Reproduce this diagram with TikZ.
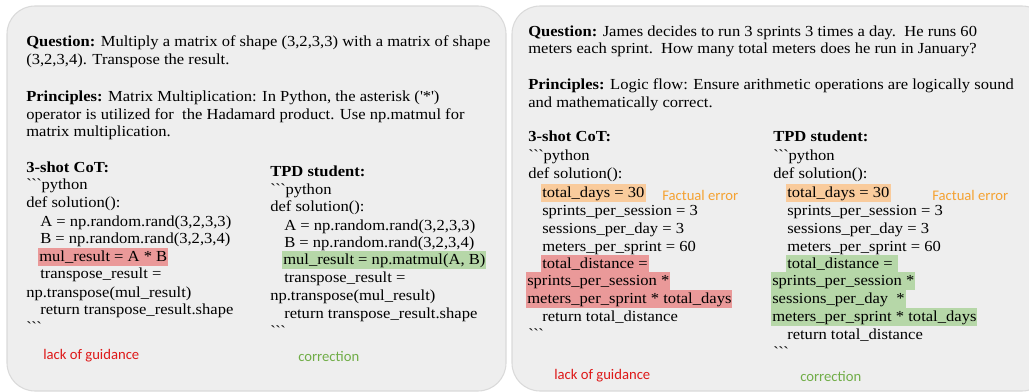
\documentclass[tikz,border=0pt]{standalone}
\usepackage{fontspec}
\setmainfont[FakeStretch=1.08]{Liberation Serif}
\newfontfamily\notefont{Carlito}
\usepackage{xcolor}
\usetikzlibrary{positioning}

\definecolor{panelfill}{RGB}{238,238,238}
\definecolor{panelline}{RGB}{218,218,218}
\definecolor{badred}{RGB}{234,153,153}
\definecolor{goodgreen}{RGB}{182,215,168}
\definecolor{factorange}{RGB}{249,203,156}
\definecolor{notered}{RGB}{222,24,24}
\definecolor{notegreen}{RGB}{112,173,71}
\definecolor{noteorange}{RGB}{245,162,50}

\newcommand{\ticks}{\textasciigrave\textasciigrave\textasciigrave}

\begin{document}
\begin{tikzpicture}[x=0.75pt, y=-0.75pt,
  panel/.style={draw=panelline, fill=panelfill, line width=0.8pt, rounded corners=21pt},
  txt/.style={anchor=west, inner xsep=0.75pt, inner ysep=0pt, text height=9.6pt, text depth=3.2pt, font=\fontsize{11.5}{13}\selectfont},
  bad/.style={txt, fill=badred},
  good/.style={txt, fill=goodgreen},
  fact/.style={txt, fill=factorange},
  note/.style={anchor=west, inner sep=0pt, font=\notefont\fontsize{11}{13}\selectfont}]
\clip (0,0) rectangle (1029,392);
\useasboundingbox (0,0) rectangle (1029,392);

% two panels
\draw[panel] (7,6) rectangle (506,391);
\draw[panel] (512,6) rectangle (1050,391);

% left: matrix example
\node[txt] (lq1) at (25,42) {\textbf{Question:} Multiply a matrix of shape (3,2,3,3) with a matrix of shape};
\node[txt] (lq2) at (25,60) {(3,2,3,4). Transpose the result.};
\node[txt] (lp1) at (25,97) {\textbf{Principles:} Matrix Multiplication: In Python, the asterisk (\textquotesingle*\textquotesingle)};
\node[txt] (lp2) at (25,115) {operator is utilized for\ \ the Hadamard product. Use np.matmul for};
\node[txt] (lp3) at (25,132) {matrix multiplication.};

\node[txt] (lc0) at (25,168) {\textbf{3-shot CoT:}};
\node[txt] (lc1) at (25,185) {\ticks python};
\node[txt] (lc2) at (25,203) {def solution():};
\node[txt] (lc3) at (39,222) {A = np.random.rand(3,2,3,3)};
\node[txt] (lc4) at (39,239) {B = np.random.rand(3,2,3,4)};
\node[bad] (lc5) at (38,257) {mul\_result = A * B};
\node[txt] (lc6) at (39,274) {transpose\_result =};
\node[txt] (lc7) at (25,293) {np.transpose(mul\_result)};
\node[txt] (lc8) at (39,310) {return transpose\_result.shape};
\node[txt] (lc9) at (25,328) {\ticks};

\node[txt] (lt0) at (269,172) {\textbf{TPD student:}};
\node[txt] (lt1) at (269,190) {\ticks python};
\node[txt] (lt2) at (269,207) {def solution():};
\node[txt] (lt3) at (283,226) {A = np.random.rand(3,2,3,3)};
\node[txt] (lt4) at (283,243) {B = np.random.rand(3,2,3,4)};
\node[good] (lt5) at (282,260) {mul\_result = np.matmul(A, B)};
\node[txt] (lt6) at (283,278) {transpose\_result =};
\node[txt] (lt7) at (269,296) {np.transpose(mul\_result)};
\node[txt] (lt8) at (283,314) {return transpose\_result.shape};
\node[txt] (lt9) at (269,332) {\ticks};

\node[note, text=notered] (lnote1) at (43,356) {lack of guidance};
\node[note, text=notegreen] (lnote2) at (298,356) {correction};

% right: sprint example
\node[txt] (rq1) at (527,32) {\textbf{Question:} James decides to run 3 sprints 3 times a day.\ \ He runs 60};
\node[txt] (rq2) at (527,49) {meters each sprint.\ \ How many total meters does he run in January?};
\node[txt] (rp1) at (527,85) {\textbf{Principles:} Logic flow: Ensure arithmetic operations are logically sound};
\node[txt] (rp2) at (527,103) {and mathematically correct.};

\node[txt] (rc0) at (527,137) {\textbf{3-shot CoT:}};
\node[txt] (rc1) at (527,156) {\ticks python};
\node[txt] (rc2) at (527,174) {def solution():};
\node[fact] (rc3) at (541,193) {total\_days = 30};
\node[txt] (rc4) at (541,211) {sprints\_per\_session = 3};
\node[txt] (rc5) at (541,229) {sessions\_per\_day = 3};
\node[txt] (rc6) at (541,247) {meters\_per\_sprint = 60};
\node[bad] (rc7) at (541,264) {total\_distance =\ };
\node[bad] (rc8) at (526,281) {sprints\_per\_session *};
\node[bad] (rc9) at (526,299) {meters\_per\_sprint * total\_days};
\node[txt] (rc10) at (541,317) {return total\_distance};
\node[txt] (rc11) at (527,335) {\ticks};
\node[note, text=noteorange] (rerr1) at (662,195) {Factual error};

\node[txt] (rt0) at (772,137) {\textbf{TPD student:}};
\node[txt] (rt1) at (772,156) {\ticks python};
\node[txt] (rt2) at (772,174) {def solution():};
\node[fact] (rt3) at (786,193) {total\_days = 30};
\node[txt] (rt4) at (786,211) {sprints\_per\_session = 3};
\node[txt] (rt5) at (786,229) {sessions\_per\_day = 3};
\node[txt] (rt6) at (786,247) {meters\_per\_sprint = 60};
\node[good] (rt7) at (786,264) {total\_distance =\ \ };
\node[good] (rt8) at (771,281) {sprints\_per\_session *\ };
\node[good] (rt9) at (771,299) {sessions\_per\_day\ \ *\ };
\node[good] (rt10) at (771,317) {meters\_per\_sprint * total\_days};
\node[txt] (rt11) at (786,335) {return total\_distance};
\node[txt] (rt12) at (772,353) {\ticks};
\node[note, text=noteorange] (rerr2) at (932,195) {Factual error};

\node[note, text=notered] (rnote1) at (554,376) {lack of guidance};
\node[note, text=notegreen] (rnote2) at (800,376) {correction};

\end{tikzpicture}
\end{document}
